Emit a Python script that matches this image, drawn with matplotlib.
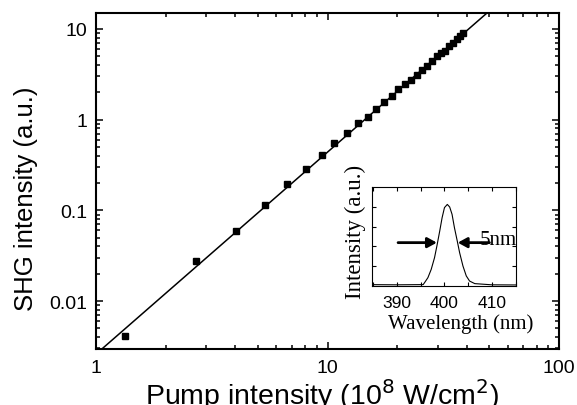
import matplotlib
matplotlib.use("Agg")
import matplotlib.pyplot as plt
from matplotlib.ticker import LogLocator, NullFormatter, FixedLocator, FuncFormatter

# ---- data ----
pump = [1.34, 2.70, 4.03, 5.37, 6.71, 8.05, 9.44, 10.7, 12.1, 13.5, 14.9, 16.2,
        17.5, 18.9, 20.2, 21.6, 22.9, 24.3, 25.5, 26.8, 28.2, 29.6, 30.9, 32.2,
        33.5, 34.9, 36.1, 37.4, 38.6]
shg = [0.0041, 0.0276, 0.059, 0.115, 0.195, 0.286, 0.411, 0.557, 0.718, 0.912,
       1.07, 1.31, 1.57, 1.84, 2.18, 2.45, 2.72, 3.11, 3.50, 3.94, 4.40, 5.0,
       5.43, 5.77, 6.44, 7.06, 7.76, 8.44, 8.96]
fit_x = [1.0, 60.0]
fit_y = [0.0026, 23.7]

wavelength = [383.0, 390.0, 395.5, 395.8, 396.5, 397.2, 397.9, 398.4, 399.0,
              399.5, 400.0, 400.6, 401.1, 401.6, 402.1, 402.7, 403.2, 403.9,
              404.6, 405.3, 406.4, 410.0, 417.0]
spectrum = [0.07, 0.06, 0.07, 0.17, 0.42, 0.84, 1.43, 2.02, 2.78, 3.45, 3.96,
            4.12, 3.99, 3.62, 2.95, 2.27, 1.68, 1.01, 0.51, 0.25, 0.12, 0.06, 0.05]
fwhm_left = [390.2, 398.4]
fwhm_right = [409.5, 402.8]
fwhm_level = 2.19
fwhm_text = "5nm"

xticks_main = [1, 10, 100]
yticks_main = [0.01, 0.1, 1, 10]
xticks_inset = [390, 400, 410]

sans = "Liberation Sans"
serif = "Liberation Serif"

fig = plt.figure(figsize=(5.77, 4.06), dpi=100)
ax = fig.add_axes([96/577, 1-350/406, (559-96)/577, (350-14)/406])

ax.plot(fit_x, fit_y, color="black", lw=1.1, zorder=2)
ax.plot(pump, shg, ls="none", marker="s", ms=4.6, color="black", zorder=3)

ax.set_xscale("log")
ax.set_yscale("log")
ax.set_xlim(1, 100)
ax.set_ylim(0.00296, 15.0)

ax.xaxis.set_major_locator(FixedLocator(xticks_main))
ax.yaxis.set_major_locator(FixedLocator(yticks_main))
ax.xaxis.set_minor_locator(LogLocator(base=10, subs=range(2, 10)))
ax.yaxis.set_minor_locator(LogLocator(base=10, subs=range(2, 10)))
ax.xaxis.set_minor_formatter(NullFormatter())
ax.yaxis.set_minor_formatter(NullFormatter())
ax.xaxis.set_major_formatter(FuncFormatter(lambda v, p: f"{v:g}"))
ax.yaxis.set_major_formatter(FuncFormatter(lambda v, p: f"{v:g}"))

ax.tick_params(which="both", direction="in", top=True, right=True, width=1.1)
ax.tick_params(which="major", length=5.3)
ax.tick_params(which="minor", length=3.2)
ax.tick_params(axis="x", which="major", pad=7.5)
ax.tick_params(axis="y", which="major", pad=6)
for lab in ax.get_xticklabels() + ax.get_yticklabels():
    lab.set_fontfamily(sans)
    lab.set_fontsize(14)
for sp in ax.spines.values():
    sp.set_linewidth(1.5)

ax.set_xlabel("Pump intensity (10$^8$ W/cm$^2$)", fontsize=20.5, family=sans)
ax.set_ylabel("SHG intensity (a.u.)", fontsize=18.5, family=sans)
ax.xaxis.set_label_coords(0.488, -0.08)
ax.yaxis.set_label_coords(-0.125, 0.449)

# ---- inset ----
axi = fig.add_axes([372/577, 1-287/406, (516-372)/577, (287-188)/406], zorder=5)
axi.plot(wavelength, spectrum, color="black", lw=0.8)
axi.set_xlim(384.7, 415.1)
axi.set_ylim(0, 5)
axi.xaxis.set_major_locator(FixedLocator(xticks_inset))
axi.xaxis.set_minor_locator(FixedLocator([385, 395, 405, 415]))
axi.yaxis.set_major_locator(FixedLocator([1, 2, 3, 4]))
axi.set_yticklabels([])
axi.tick_params(which="both", direction="in", top=True, right=True, width=0.8, length=3)
axi.tick_params(axis="x", pad=6.5)
for lab in axi.get_xticklabels():
    lab.set_fontfamily(sans)
    lab.set_fontsize(12.5)
for sp in axi.spines.values():
    sp.set_linewidth(0.8)

axi.set_xlabel("Wavelength (nm)", fontsize=15, family=serif)
axi.set_ylabel("Intensity (a.u.)", fontsize=16.5, family=serif)
axi.xaxis.set_label_coords(0.618, -0.28)
axi.yaxis.set_label_coords(-0.045, 0.56)

ap = dict(arrowstyle="-|>,head_length=0.55,head_width=0.3", lw=2, color="black",
          shrinkA=0, shrinkB=0)
axi.annotate("", xy=(fwhm_left[1], fwhm_level), xytext=(fwhm_left[0], fwhm_level), arrowprops=ap)
axi.annotate("", xy=(fwhm_right[1], fwhm_level), xytext=(fwhm_right[0], fwhm_level), arrowprops=ap)
axi.text(407.4, fwhm_level + 0.15, fwhm_text, family=serif, fontsize=15, ha="left", va="center")

fig.savefig("out.png", dpi=100)
